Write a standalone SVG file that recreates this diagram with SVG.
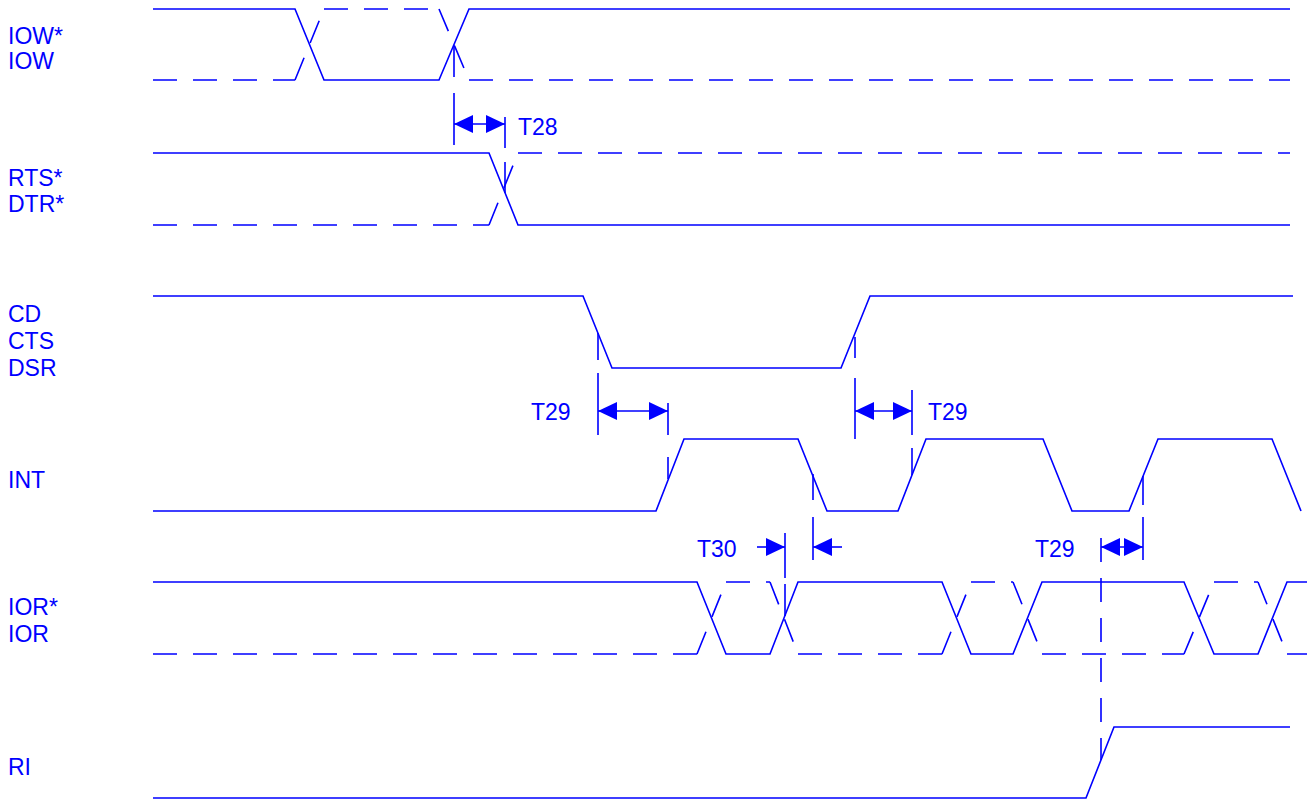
<svg xmlns="http://www.w3.org/2000/svg" width="1307" height="803" viewBox="0 0 1307 803">
<style>
.s{fill:none;stroke:#0000ff;stroke-width:1.6}
.d{fill:none;stroke:#0000ff;stroke-width:1.6;stroke-dasharray:24 16}
.v{fill:none;stroke:#0000ff;stroke-width:1.6}
.a{fill:none;stroke:#0000ff;stroke-width:1.6}
text{font-family:"Liberation Sans",Arial,sans-serif;font-size:23px;fill:#0000ff}
</style>
<defs>
<marker id="ah" markerUnits="userSpaceOnUse" markerWidth="19" markerHeight="18" refX="19" refY="9" orient="auto-start-reverse" viewBox="0 0 19 18">
<path d="M0,0 L19,9 L0,18 z" fill="#0000ff"/>
</marker>
</defs>
<rect width="1307" height="803" fill="#ffffff"/>

<g id="iow">
<text x="8" y="44">IOW*</text>
<text x="8" y="69">IOW</text>
<path class="s" d="M153,9 L295,9 L324,80 L439,80 L469,9 L1290,9"/>
<path class="d" d="M153,80 L295,80 M295,80 L324,9 M324,9 L439,9 M439,9 L469,80 M469,80 L1290,80"/>
</g>

<g id="rts">
<text x="8" y="186">RTS*</text>
<text x="8" y="212">DTR*</text>
<path class="s" d="M153,153 L489,153 L518,225 L1290,225"/>
<path class="d" d="M153,225 L489,225 M489,225 L518,153 M518,153 L1290,153"/>
</g>

<g id="cd">
<text x="8" y="322">CD</text>
<text x="8" y="349">CTS</text>
<text x="8" y="376">DSR</text>
<path class="s" d="M153,296 L583,296 L612,368 L841,368 L870,296 L1293,296"/>
</g>

<g id="int">
<text x="8" y="488">INT</text>
<path class="s" d="M153,511 L656,511 L684,439 L798,439 L827,511 L898,511 L926,439 L1043,439 L1072,511 L1129,511 L1158,439 L1272,439 L1301,511"/>
</g>

<g id="ior">
<text x="8" y="615">IOR*</text>
<text x="8" y="642">IOR</text>
<path class="s" d="M153,582 L697,582 L726,654 L770,654 L798,582 L942,582 L971,654 L1013,654 L1042,582 L1184,582 L1214,654 L1258,654 L1287,582 L1307,582"/>
<path class="d" d="M153,654 L697,654 M697,654 L726,582 M726,582 L770,582 M770,582 L798,654 M798,654 L942,654 M942,654 L971,582 M971,582 L1013,582 M1013,582 L1042,654 M1042,654 L1184,654 M1184,654 L1214,582 M1214,582 L1258,582 M1258,582 L1287,654 M1287,654 L1307,654"/>
</g>

<g id="ri">
<text x="8" y="775">RI</text>
<path class="s" d="M153,798 L1086,798 L1114,727 L1290,727"/>
</g>

<g id="connectors">
<path class="v" d="M454,45 V77 M454,93 V145"/>
<path class="v" d="M505,117 V148 M505,162 V193"/>
<line class="a" x1="454" y1="124" x2="505" y2="124" marker-start="url(#ah)" marker-end="url(#ah)"/>
<text x="518" y="135">T28</text>

<path class="v" d="M598,333 V360 M598,373 V435"/>
<path class="v" d="M668,403 V435 M668,457 V479"/>
<line class="a" x1="598" y1="411" x2="668" y2="411" marker-start="url(#ah)" marker-end="url(#ah)"/>
<text x="531" y="420">T29</text>

<path class="v" d="M855,337 V358 M855,378 V439"/>
<path class="v" d="M912,390 V435 M912,448 V475"/>
<line class="a" x1="855" y1="411" x2="912" y2="411" marker-start="url(#ah)" marker-end="url(#ah)"/>
<text x="928" y="420">T29</text>

<path class="v" d="M785,533 V578 M785,584 V616"/>
<path class="v" d="M813,474 V500 M813,517 V560"/>
<line class="a" x1="757" y1="547" x2="785" y2="547" marker-end="url(#ah)"/>
<line class="a" x1="842" y1="547" x2="813" y2="547" marker-end="url(#ah)"/>
<text x="697" y="557">T30</text>

<path class="v" d="M1101,538 V562 M1101,578 V602 M1101,618 V642 M1101,658 V682 M1101,698 V722 M1101,738 V760"/>
<path class="v" d="M1143,476 V505 M1143,517 V560"/>
<line class="a" x1="1101" y1="547" x2="1143" y2="547" marker-start="url(#ah)" marker-end="url(#ah)"/>
<text x="1035" y="557">T29</text>
</g>
</svg>
